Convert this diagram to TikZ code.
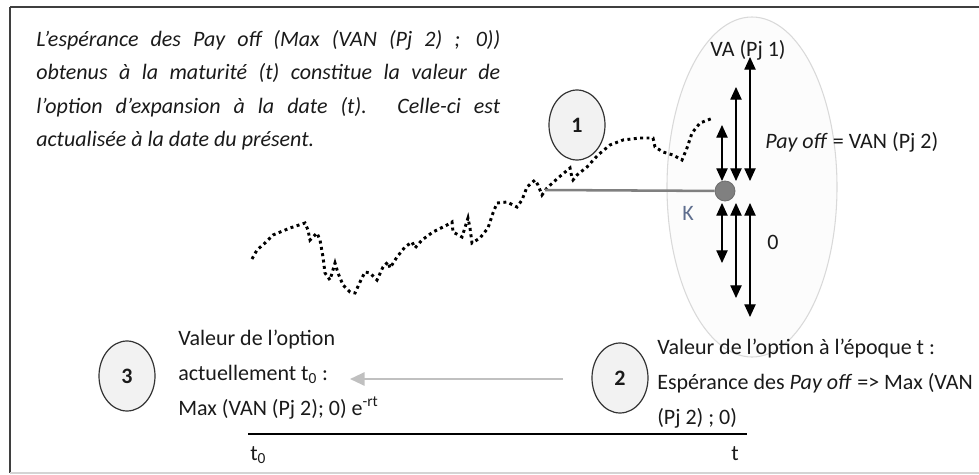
\documentclass[tikz,border=0pt]{standalone}
\usepackage{fontspec}
\setmainfont{Carlito}
\usetikzlibrary{arrows.meta,shapes.geometric}
\definecolor{Ink}{HTML}{1A1A1A}
\definecolor{FrameDark}{HTML}{3F3F3F}
\definecolor{FrameLight}{HTML}{D4D4D4}
\definecolor{Bubble}{HTML}{F2F2F2}
\definecolor{BubbleEdge}{HTML}{333333}
\definecolor{Cloud}{HTML}{FCFCFC}
\definecolor{CloudEdge}{HTML}{D9D9D9}
\definecolor{Strike}{HTML}{808080}
\definecolor{KText}{HTML}{5E6E8E}
\definecolor{Back}{HTML}{C0C0C0}

\begin{document}
\begin{tikzpicture}[x=0.75pt,y=-0.75pt,
  every node/.style={font=\fontsize{16.5}{26}\selectfont,text=Ink,inner sep=0pt},
  stepnum/.style={ellipse,minimum width=42pt,minimum height=52.5pt,fill=Bubble,draw=BubbleEdge,line width=0.9pt,font=\fontsize{16.5}{26}\selectfont\bfseries},
  walk/.style={draw=black,line width=2.2pt,dash pattern=on 2.2pt off 2.6pt},
  payarrow/.style={{Triangle[width=8.5pt,length=9.5pt]}-{Triangle[width=8.5pt,length=9.5pt]},line width=0.9pt,black}]
\useasboundingbox (0,0) rectangle (979,475);
% cadre
\draw[FrameDark,line width=1.6pt] (10,7) -- (979,7);
\draw[FrameDark,line width=1pt] (10,7) -- (10,473);
\draw[FrameLight,line width=1pt] (10,473) -- (979,473);
% ellipse autour de l'echeance
\draw[CloudEdge,fill=Cloud,line width=0.8pt] (752,187) ellipse [x radius=85, y radius=170];
% trajectoire du sous-jacent
\draw[walk] plot coordinates {(252,259) (257,250) (265,243) (273,235) (290,228) (305,223)
  (308,230) (310,240) (317,233) (320,240) (323,257) (325,273) (330,280) (335,263)
  (338,273) (343,285) (350,292) (355,293) (360,282) (365,272) (370,273) (377,280)
  (383,267) (388,262) (390,268) (397,257) (405,247) (412,242) (415,248) (422,240)
  (433,232) (447,225) (452,222) (453,232) (462,237) (468,218) (470,228) (472,243)
  (480,238) (488,228) (493,213) (497,203) (507,202) (517,207) (522,200) (527,187)
  (535,180) (538,185) (542,195) (547,188) (558,178) (570,168) (572,178) (573,180)
  (577,175) (587,167) (598,155) (610,145) (623,140) (640,138) (653,138) (655,147)
  (663,152) (673,155) (682,160) (687,148) (692,133) (700,123) (713,118)};
\coordinate (walkpt) at (545,190);
\node[circle,minimum size=15pt,fill=Strike,draw=Strike!85!black,line width=0.6pt] (k) at (725,191) {};
\draw[Strike,line width=1.9pt] (walkpt) -- (k);
\node[text=KText] (klabel) at (688,213) {K};
% pay off au-dessus et en dessous de K
\foreach \n/\xx/\ytop/\ybot in {1/722/125/263, 2/736/87/298, 3/750/57/317} {
  \coordinate (up\n) at (\xx,\ytop);
  \coordinate (ku\n) at (\xx,181);
  \coordinate (kd\n) at (\xx,203);
  \coordinate (dn\n) at (\xx,\ybot);
  \draw[payarrow] (ku\n) -- (up\n);
  \draw[payarrow] (kd\n) -- (dn\n);
}
\node (va) at (748,50) {VA (Pj 1)};
\node[anchor=west] (payoff) at (765,142) {\textit{Pay off} = VAN (Pj 2)};
\node (zero) at (773,242) {0};
% texte explicatif
\node[anchor=north west,text width=348pt,align=justify,font=\fontsize{16.5}{25}\selectfont\itshape] (intro) at (36,30)
  {L’espérance des Pay off (Max (VAN (Pj 2) ; 0))\linebreak obtenus à la maturité (t) constitue la valeur de\linebreak l’option d’expansion à la date (t). Celle-ci est\linebreak actualisée à la date du présent.};
% etapes
\node[stepnum] (c1) at (577,125) {1};
\node[stepnum] (c2) at (620,378) {2};
\node[stepnum] (c3) at (127,376) {3};
\node[anchor=north west,align=left] (v2) at (657,339)
  {Valeur de l’option à l’époque t :\\Espérance des \textit{Pay off} => Max (VAN\\(Pj 2) ; 0)};
\node[anchor=north west,align=left] (v3) at (178,330)
  {Valeur de l’option\\actuellement t\textsubscript{0} :\\Max (VAN (Pj 2); 0) e\textsuperscript{-rt}};
% actualisation
\coordinate (backs) at (563,379);
\coordinate (backe) at (350,379);
\draw[-{Triangle[width=10pt,length=11pt]},Back,line width=1.5pt] (backs) -- (backe);
% axe du temps
\coordinate (tzero) at (248,434);
\coordinate (tmat) at (747,434);
\draw[black,line width=1.2pt] (tzero) -- (tmat);
\node[anchor=north west] (t0) at (250,446) {t\textsubscript{0}};
\node (tt) at (735,454) {t};
\end{tikzpicture}
\end{document}
